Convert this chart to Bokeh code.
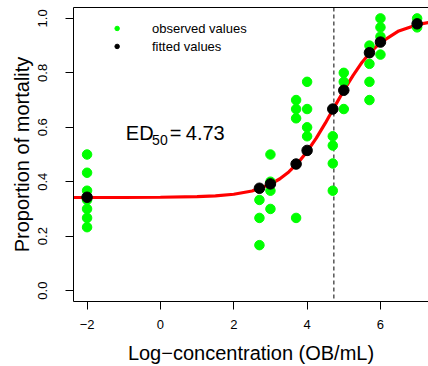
from bokeh.plotting import figure
from bokeh.models import Range1d, FixedTicker, LinearAxis, Span, Label
from bokeh.embed import file_html
from bokeh.resources import INLINE

# ---- data ----
obs_x = [-2, -2, -2, -2, -2, -2, -2,
         2.7, 2.7, 2.7,
         3.0, 3.0, 3.0, 3.0,
         3.7, 3.7, 3.7, 3.7,
         4.0, 4.0, 4.0, 4.0,
         4.7, 4.7, 4.7, 4.7,
         5.0, 5.0, 5.0,
         5.7, 5.7, 5.7, 5.7,
         6.0, 6.0, 6.0, 6.0,
         7.0, 7.0]
obs_y = [0.500, 0.433, 0.367, 0.333, 0.300, 0.267, 0.233,
         0.333, 0.267, 0.167,
         0.500, 0.400, 0.367, 0.300,
         0.700, 0.667, 0.633, 0.267,
         0.767, 0.667, 0.600, 0.567,
         0.567, 0.533, 0.467, 0.367,
         0.800, 0.767, 0.667,
         0.900, 0.833, 0.767, 0.700,
         1.000, 0.967, 0.933, 0.867,
         1.000, 0.967]

fit_x = [-2, 2.7, 3.0, 3.7, 4.0, 4.7, 5.0, 5.7, 6.0, 7.0]
fit_y = [0.343, 0.376, 0.392, 0.465, 0.515, 0.667, 0.736, 0.874, 0.913, 0.980]

curve_x = [-2.4, -1.0, 0.0, 1.0, 1.5, 2.0, 2.5, 3.0, 3.25, 3.5, 3.75, 4.0, 4.25,
           4.5, 4.75, 5.0, 5.25, 5.5, 5.75, 6.0, 6.5, 7.0, 7.4]
curve_y = [0.342, 0.342, 0.343, 0.345, 0.348, 0.354, 0.366, 0.391, 0.410, 0.436,
           0.469, 0.511, 0.560, 0.616, 0.676, 0.735, 0.790, 0.839, 0.879, 0.911,
           0.954, 0.977, 0.987]

ed50 = 4.73

x_ticks = [-2, 0, 2, 4, 6]
x_tick_labels = ["\u22122", "0", "2", "4", "6"]
y_ticks = [0.0, 0.2, 0.4, 0.6, 0.8, 1.0]
y_tick_labels = ["0.0", "0.2", "0.4", "0.6", "0.8", "1.0"]

legend_labels = ["observed values", "fitted values"]

FONT = "Liberation Sans"

p = figure(width=428, height=366, output_backend="svg", toolbar_location=None,
           x_range=Range1d(-2.37, 7.31), y_range=Range1d(-0.04, 1.04),
           min_border_left=73, min_border_right=0, min_border_top=7,
           min_border_bottom=65)
p.outline_line_color = None
p.xgrid.grid_line_color = None
p.ygrid.grid_line_color = None
p.background_fill_color = "white"
p.border_fill_color = "white"

# axes
xa = p.xaxis[0]
xa.ticker = FixedTicker(ticks=x_ticks)
xa.major_label_overrides = {t: l for t, l in zip(x_ticks, x_tick_labels)}
xa.axis_label = "Log\u2212concentration (OB/mL)"
ya = p.yaxis[0]
ya.ticker = FixedTicker(ticks=y_ticks)
ya.major_label_overrides = {t: l for t, l in zip(y_ticks, y_tick_labels)}
ya.axis_label = "Proportion of mortality"
ya.major_label_orientation = "vertical"

for ax in (xa, ya):
    ax.axis_line_color = "black"
    ax.axis_line_width = 1
    ax.major_tick_line_color = "black"
    ax.major_tick_out = 8
    ax.major_tick_in = 0
    ax.minor_tick_line_color = None
    ax.major_label_text_font = FONT
    ax.major_label_text_font_size = "13px"
    ax.major_label_text_color = "black"
    ax.axis_label_text_font = FONT
    ax.axis_label_text_font_size = "20px"
    ax.axis_label_text_font_style = "normal"
    ax.axis_label_text_color = "black"

xa.major_label_standoff = 10
xa.axis_label_standoff = 10
ya.major_label_standoff = 18
ya.axis_label_standoff = 3

top = LinearAxis(ticker=FixedTicker(ticks=[]), major_tick_line_color=None,
                 minor_tick_line_color=None, major_label_text_font_size="0px",
                 major_label_standoff=0, major_tick_out=0, axis_line_color="black")
p.add_layout(top, "above")

# ED50 dashed line
p.add_layout(Span(location=ed50, dimension="height", line_color="black",
                  line_width=1, line_dash="4 3", level="underlay"))

# fitted curve and points
p.line(curve_x, curve_y, line_color="#FF0000", line_width=3.2)
p.scatter(obs_x, obs_y, size=9.5, fill_color="#00FF00", line_color="#00FF00")
p.scatter(fit_x, fit_y, size=10.5, fill_color="black", line_color="black")

# legend (manual, R style)
p.scatter([-1.18, -1.18], [0.963, 0.897], size=4.5,
          fill_color=["#00FF00", "black"], line_color=["#00FF00", "black"])
for i, lab in enumerate(legend_labels):
    p.add_layout(Label(x=-0.23, y=[0.963, 0.897][i], text=lab,
                       text_font=FONT, text_font_size="13px",
                       text_baseline="middle", text_align="left",
                       text_color="black"))

# ED50 label
ax0, ay0 = -0.944, 0.579
p.add_layout(Label(x=ax0, y=ay0, text="ED", text_font=FONT,
                   text_font_size="20px", text_baseline="alphabetic", text_color="black"))
p.add_layout(Label(x=ax0, y=ay0, x_offset=26.3, y_offset=-7, text="50",
                   text_font=FONT, text_font_size="14px",
                   text_baseline="alphabetic", text_color="black"))
p.add_layout(Label(x=ax0, y=ay0, x_offset=44, text="=", text_font=FONT,
                   text_font_size="20px", text_baseline="alphabetic", text_color="black"))
p.add_layout(Label(x=ax0, y=ay0, x_offset=60, text=f"{ed50:.2f}", text_font=FONT,
                   text_font_size="20px", text_baseline="alphabetic", text_color="black"))

open("out.html", "w").write(file_html(p, INLINE))
